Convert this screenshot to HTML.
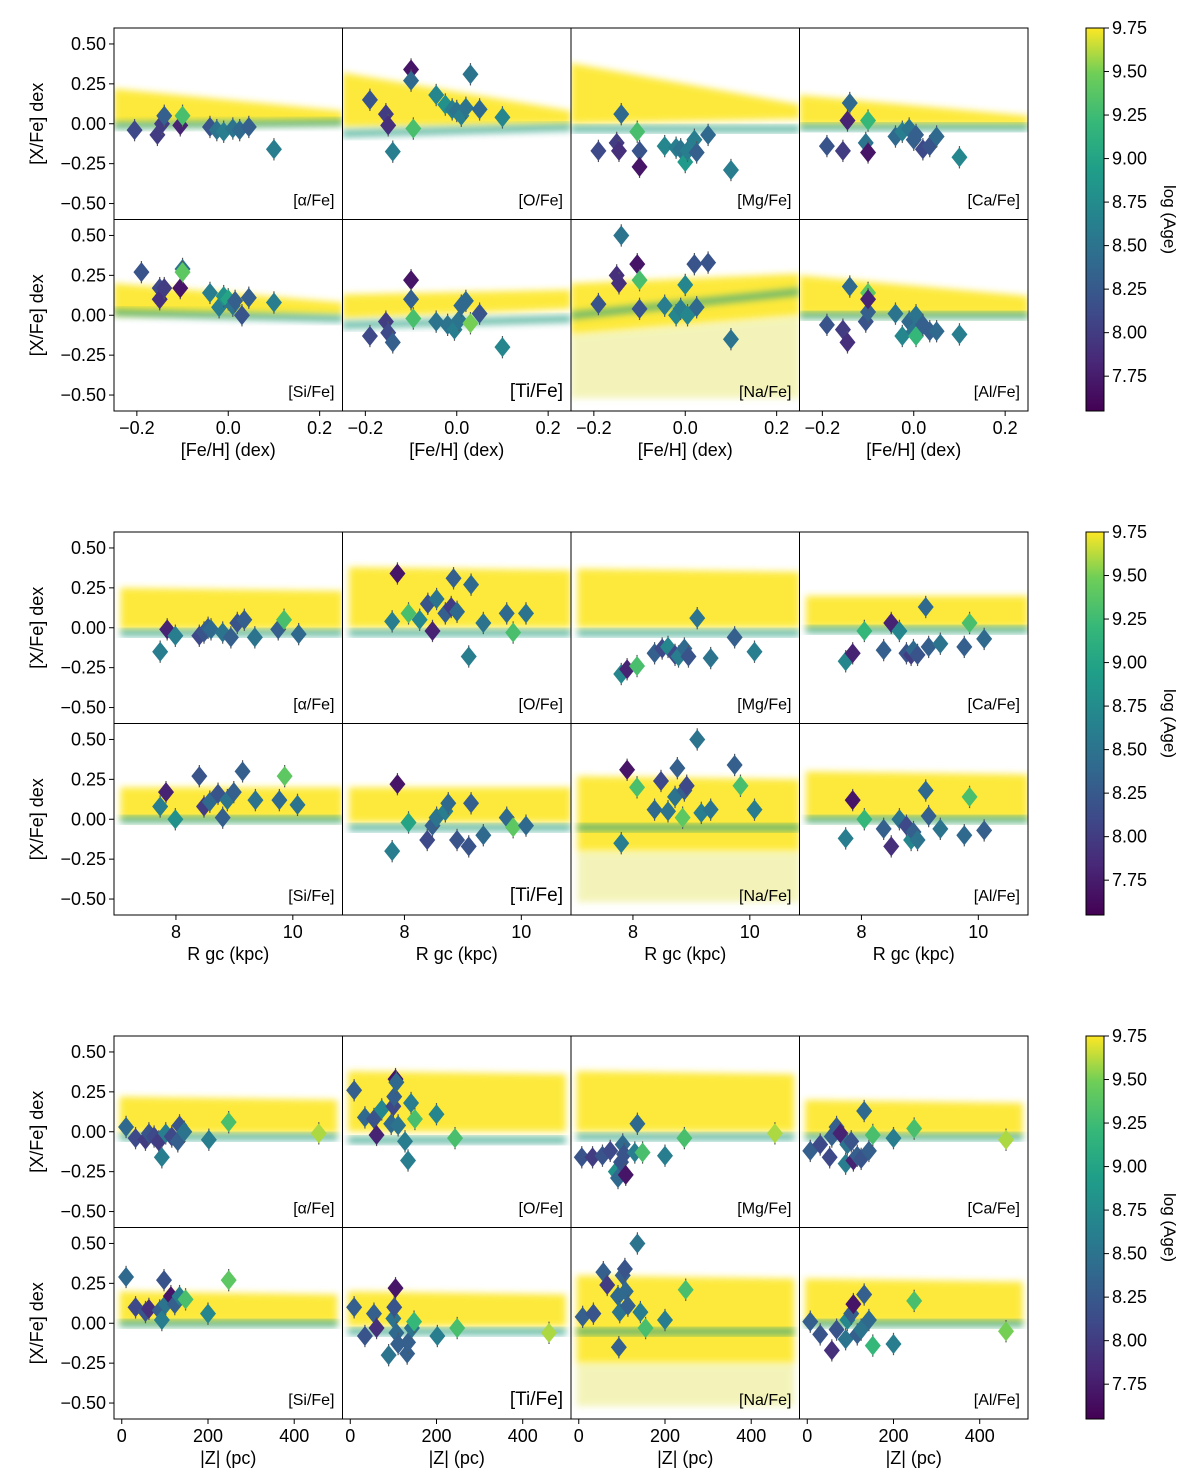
<!DOCTYPE html>
<html><head><meta charset="utf-8"><style>
html,body{margin:0;padding:0;background:#fff}
svg{display:block;font-family:"Liberation Sans",sans-serif}
</style></head><body>
<svg id="fig" width="1200" height="1476" viewBox="0 0 1200 1476" xmlns="http://www.w3.org/2000/svg">
<defs>
<filter id="soft" x="-5%" y="-20%" width="110%" height="140%"><feGaussianBlur stdDeviation="3.5"/></filter>
<linearGradient id="vir" x1="0" y1="1" x2="0" y2="0">
<stop offset="0" stop-color="#440154"/><stop offset="0.13" stop-color="#482878"/><stop offset="0.25" stop-color="#3e4989"/><stop offset="0.38" stop-color="#31688e"/><stop offset="0.5" stop-color="#26828e"/><stop offset="0.63" stop-color="#1f9e89"/><stop offset="0.75" stop-color="#35b779"/><stop offset="0.88" stop-color="#6ece58"/><stop offset="1" stop-color="#fde725"/>
</linearGradient>
</defs>
</svg>
<script>
// ---------- data: block 1 ([Fe/H]) ----------
const fehAlphaX=[-0.205,-0.155,-0.145,-0.14,-0.105,-0.10,-0.04,-0.025,-0.01,0.01,0.025,0.045,0.10];
const fehAlphaY=[-0.04,-0.07,0.0,0.05,-0.01,0.05,-0.02,-0.04,-0.05,-0.03,-0.04,-0.02,-0.16];
const fehAlphaAge=[8.1,8.0,8.0,8.3,7.8,9.3,8.2,8.5,8.6,8.5,8.4,8.3,8.6];
const fehOX=[-0.19,-0.155,-0.15,-0.14,-0.10,-0.10,-0.095,-0.045,-0.025,-0.01,0.0,0.01,0.02,0.03,0.05,0.10];
const fehOY=[0.15,0.06,-0.01,-0.175,0.34,0.27,-0.03,0.18,0.12,0.09,0.08,0.05,0.10,0.31,0.09,0.04];
const fehOAge=[8.2,8.0,7.9,8.6,7.7,8.4,9.3,8.7,8.8,8.6,8.5,8.6,8.5,8.5,8.4,8.7];
const fehMgX=[-0.19,-0.15,-0.145,-0.14,-0.105,-0.10,-0.10,-0.045,-0.02,-0.01,0.0,0.005,0.02,0.025,0.05,0.10];
const fehMgY=[-0.17,-0.12,-0.17,0.06,-0.05,-0.17,-0.27,-0.14,-0.15,-0.16,-0.24,-0.17,-0.10,-0.18,-0.07,-0.29];
const fehMgAge=[8.1,8.0,7.9,8.4,9.3,8.2,7.7,8.7,8.6,8.5,8.9,8.6,8.6,8.3,8.4,8.6];
const fehCaX=[-0.19,-0.155,-0.145,-0.14,-0.105,-0.10,-0.10,-0.04,-0.025,-0.01,0.0,0.005,0.02,0.035,0.05,0.10];
const fehCaY=[-0.14,-0.17,0.02,0.13,-0.12,-0.18,0.02,-0.08,-0.05,-0.03,-0.10,-0.07,-0.16,-0.14,-0.08,-0.21];
const fehCaAge=[8.2,8.0,7.8,8.4,8.5,7.7,9.2,8.4,8.6,8.5,8.3,8.3,8.1,8.2,8.4,8.7];
const fehSiX=[-0.19,-0.15,-0.15,-0.14,-0.105,-0.10,-0.10,-0.04,-0.02,-0.01,0.0,0.01,0.015,0.03,0.045,0.10];
const fehSiY=[0.27,0.17,0.10,0.17,0.17,0.29,0.27,0.14,0.05,0.12,0.10,0.06,0.09,0.0,0.11,0.08];
const fehSiAge=[8.2,8.1,7.9,8.0,7.7,8.5,9.4,8.6,8.6,8.8,9.0,8.5,8.3,8.2,8.3,8.6];
const fehTiX=[-0.19,-0.155,-0.15,-0.14,-0.10,-0.10,-0.095,-0.045,-0.02,-0.005,0.005,0.01,0.02,0.03,0.05,0.10];
const fehTiY=[-0.13,-0.04,-0.11,-0.17,0.22,0.10,-0.02,-0.04,-0.06,-0.09,-0.03,0.06,0.09,-0.05,0.01,-0.20];
const fehTiAge=[8.1,8.0,8.1,8.3,7.7,8.3,9.3,8.5,8.5,8.6,8.5,8.4,8.4,9.5,8.2,8.7];
const fehNaX=[-0.19,-0.15,-0.145,-0.14,-0.105,-0.10,-0.10,-0.045,-0.02,-0.01,0.0,0.005,0.02,0.025,0.05,0.10];
const fehNaY=[0.07,0.25,0.20,0.50,0.32,0.22,0.04,0.06,0.0,0.04,0.19,0.0,0.32,0.05,0.33,-0.15];
const fehNaAge=[8.2,7.9,7.9,8.5,7.7,9.3,8.2,8.6,8.7,8.6,8.7,8.7,8.2,8.4,8.2,8.5];
const fehAlX=[-0.19,-0.155,-0.145,-0.14,-0.105,-0.10,-0.10,-0.10,-0.04,-0.025,-0.01,0.0,0.005,0.005,0.02,0.035,0.05,0.10];
const fehAlY=[-0.06,-0.09,-0.17,0.18,-0.04,0.14,0.02,0.10,0.01,-0.13,-0.04,-0.10,-0.13,0.0,-0.06,-0.10,-0.10,-0.12];
const fehAlAge=[8.2,8.0,7.9,8.4,8.2,9.4,8.3,7.8,8.5,8.7,8.4,8.5,9.2,8.5,8.3,8.3,8.4,8.6];
// ---------- data: block 2 (R gc) ----------
const rAlphaX=[7.73,7.85,7.99,8.4,8.48,8.55,8.6,8.8,8.94,9.05,9.17,9.35,9.75,9.85,10.1];
const rAlphaY=[-0.15,-0.01,-0.05,-0.05,-0.03,0.0,-0.01,-0.03,-0.06,0.03,0.05,-0.06,-0.01,0.05,-0.04];
const rAlphaAge=[8.6,7.8,8.6,8.1,8.2,8.3,8.4,8.5,8.3,8.2,8.3,8.5,8.3,9.3,8.4];
const rOX=[7.79,7.88,8.07,8.26,8.4,8.48,8.55,8.7,8.8,8.84,8.9,9.1,9.14,9.35,9.75,9.86,10.08];
const rOY=[0.04,0.34,0.09,0.05,0.15,-0.02,0.18,0.09,0.13,0.31,0.10,-0.18,0.27,0.03,0.09,-0.03,0.09];
const rOAge=[8.6,7.7,9.3,8.7,8.2,7.8,8.5,8.3,8.0,8.3,8.4,8.6,8.4,8.5,8.4,9.3,8.5];
const rMgX=[7.8,7.9,8.07,8.37,8.5,8.6,8.72,8.78,8.88,8.95,9.1,9.33,9.74,10.08];
const rMgY=[-0.29,-0.26,-0.24,-0.16,-0.13,-0.12,-0.17,-0.18,-0.13,-0.18,0.06,-0.19,-0.06,-0.15];
const rMgAge=[8.7,7.8,9.3,8.3,8.1,8.7,8.1,8.6,8.4,8.2,8.5,8.5,8.3,8.6];
const rCaX=[7.73,7.85,8.05,8.38,8.51,8.65,8.77,8.85,8.89,8.96,9.1,9.15,9.35,9.76,9.85,10.1];
const rCaY=[-0.21,-0.16,-0.02,-0.14,0.03,-0.02,-0.16,-0.17,-0.14,-0.17,0.13,-0.12,-0.10,-0.12,0.03,-0.07];
const rCaAge=[8.7,7.8,9.2,8.3,7.8,8.7,8.2,8.0,8.4,8.2,8.4,8.3,8.5,8.3,9.3,8.4];
const rSiX=[7.73,7.83,7.99,8.4,8.48,8.58,8.72,8.8,8.88,8.99,9.14,9.36,9.77,9.86,10.08];
const rSiY=[0.08,0.17,0.0,0.27,0.08,0.11,0.16,0.01,0.12,0.17,0.30,0.12,0.12,0.27,0.09];
const rSiAge=[8.6,7.8,8.8,8.2,8.0,8.4,8.2,8.3,8.5,8.3,8.3,8.5,8.4,9.4,8.5];
const rTiX=[7.79,7.88,8.07,8.39,8.48,8.55,8.7,8.75,8.9,9.1,9.14,9.35,9.75,9.86,10.08];
const rTiY=[-0.20,0.22,-0.02,-0.13,-0.04,0.01,0.05,0.10,-0.13,-0.17,0.10,-0.10,0.01,-0.05,-0.04];
const rTiAge=[8.6,7.7,9.0,8.1,8.3,8.5,8.6,8.4,8.2,8.2,8.3,8.4,8.4,9.4,8.4];
const rNaX=[7.8,7.9,8.07,8.37,8.48,8.6,8.72,8.76,8.85,8.88,8.92,9.1,9.17,9.33,9.74,9.84,10.08];
const rNaY=[-0.15,0.31,0.20,0.06,0.24,0.05,0.14,0.32,0.01,0.18,0.21,0.50,0.04,0.06,0.34,0.21,0.06];
const rNaAge=[8.6,7.7,9.3,8.4,8.1,8.5,8.5,8.3,9.4,8.3,8.1,8.5,8.6,8.5,8.3,9.3,8.6];
const rAlX=[7.73,7.85,8.05,8.38,8.51,8.65,8.77,8.85,8.89,8.96,9.1,9.15,9.35,9.76,9.85,10.1];
const rAlY=[-0.12,0.12,0.0,-0.06,-0.17,0.0,-0.04,-0.13,-0.08,-0.13,0.18,0.02,-0.06,-0.10,0.14,-0.07];
const rAlAge=[8.6,7.7,9.2,8.3,7.9,8.5,8.1,8.7,8.3,8.5,8.4,8.3,8.5,8.4,9.3,8.3];
// ---------- data: block 3 (|Z|) ----------
const zAlphaX=[10,32,55,63,75,86,93,102,116,130,134,145,202,248,457];
const zAlphaY=[0.03,-0.04,-0.05,-0.01,-0.03,-0.06,-0.16,-0.01,-0.03,-0.06,0.04,0.0,-0.05,0.06,-0.01];
const zAlphaAge=[8.4,8.1,8.0,8.2,8.1,8.0,8.6,8.6,8.1,8.3,8.2,8.5,8.6,9.3,9.6];
const zOX=[9,34,55,61,73,95,100,102,105,107,111,127,134,141,150,200,243];
const zOY=[0.26,0.09,0.08,-0.02,0.14,0.05,0.16,0.22,0.33,0.31,0.04,-0.06,-0.18,0.18,0.08,0.11,-0.04];
const zOAge=[8.3,8.4,8.2,7.8,8.7,8.4,8.1,8.3,7.7,8.4,8.5,8.6,8.6,8.6,9.3,8.7,9.3];
const zMgX=[7,32,55,73,86,91,98,102,105,109,130,136,148,200,245,455];
const zMgY=[-0.16,-0.16,-0.15,-0.12,-0.25,-0.29,-0.19,-0.08,-0.14,-0.27,-0.13,0.05,-0.13,-0.15,-0.04,-0.01];
const zMgAge=[8.2,8.0,8.2,8.1,8.8,8.4,8.2,8.4,8.2,7.7,8.6,8.4,9.3,8.6,9.3,9.6];
const zCaX=[7,30,52,57,68,77,89,93,102,107,116,125,132,143,152,200,248,461];
const zCaY=[-0.12,-0.08,-0.16,-0.03,0.03,-0.01,-0.20,-0.08,-0.06,-0.18,-0.15,-0.17,0.13,-0.12,-0.02,-0.04,0.02,-0.05];
const zCaAge=[8.3,8.1,8.1,8.3,8.3,7.8,8.6,8.5,8.2,7.8,8.3,8.2,8.4,8.3,9.3,8.6,9.3,9.6];
const zSiX=[10,32,55,63,88,93,98,102,114,123,134,148,200,248];
const zSiY=[0.29,0.10,0.07,0.09,0.08,0.02,0.27,0.12,0.17,0.12,0.17,0.15,0.06,0.27];
const zSiAge=[8.4,8.1,8.2,7.9,8.3,8.6,8.2,8.5,7.7,8.3,8.6,9.3,8.7,9.4];
const zTiX=[9,34,55,61,89,100,102,105,107,111,132,134,143,148,202,248,461];
const zTiY=[0.10,-0.08,0.06,-0.03,-0.20,0.03,0.10,0.22,-0.06,-0.13,-0.19,-0.12,-0.03,0.01,-0.08,-0.03,-0.06];
const zTiAge=[8.3,8.2,8.3,7.9,8.5,8.5,8.2,7.7,8.4,8.3,8.3,8.3,8.5,9.2,8.6,9.3,9.6];
const zNaX=[9,34,57,66,91,93,95,102,107,109,114,136,143,155,200,248];
const zNaY=[0.04,0.06,0.32,0.24,0.17,-0.15,0.07,0.30,0.34,0.20,0.11,0.50,0.07,-0.03,0.02,0.21];
const zNaAge=[8.3,8.2,8.3,8.0,8.4,8.3,8.5,8.3,8.2,8.4,8.3,8.5,8.6,9.3,8.6,9.3];
const zAlX=[7,30,57,68,89,93,102,107,116,125,132,143,152,200,248,461];
const zAlY=[0.01,-0.07,-0.17,-0.04,-0.10,0.02,0.06,0.12,-0.07,-0.04,0.18,0.02,-0.14,-0.13,0.14,-0.05];
const zAlAge=[8.3,8.2,7.9,8.2,8.5,8.7,8.3,7.7,8.3,8.5,8.3,8.4,9.2,8.6,9.3,9.5];
// ---------- axes / tick labels ----------
const yTicks=[0.5,0.25,0.0,-0.25,-0.5];
const yTickLabels=["0.50","0.25","0.00","\u22120.25","\u22120.50"];
const fehTicks=[-0.2,0.0,0.2], fehTickLabels=["\u22120.2","0.0","0.2"];
const rTicks=[8,10], rTickLabels=["8","10"];
const zTicks=[0,200,400], zTickLabels=["0","200","400"];
const cbTicks=[9.75,9.5,9.25,9.0,8.75,8.5,8.25,8.0,7.75];
const cbTickLabels=["9.75","9.50","9.25","9.00","8.75","8.50","8.25","8.00","7.75"];
const ageMin=7.55, ageMax=9.75;
const elemLabels=["[\u03b1/Fe]","[O/Fe]","[Mg/Fe]","[Ca/Fe]","[Si/Fe]","[Ti/Fe]","[Na/Fe]","[Al/Fe]"];
const elemKeys=["alpha","o","mg","ca","si","ti","na","al"];

const svg=document.getElementById('fig');
const NS="http://www.w3.org/2000/svg";
function mk(tag,attrs,parent){const e=document.createElementNS(NS,tag);for(const k in attrs)e.setAttribute(k,attrs[k]);(parent||svg).appendChild(e);return e;}
const vstops=[[0,[68,1,84]],[0.13,[72,40,120]],[0.25,[62,73,137]],[0.38,[49,104,142]],[0.5,[38,130,142]],[0.63,[31,158,137]],[0.75,[53,183,121]],[0.88,[110,206,88]],[1,[253,231,37]]];
function viridis(a){let t=(a-ageMin)/(ageMax-ageMin);t=Math.max(0,Math.min(1,t));for(let i=1;i<vstops.length;i++){if(t<=vstops[i][0]){const[p0,c0]=vstops[i-1],[p1,c1]=vstops[i];const f=(t-p0)/(p1-p0);return 'rgb('+c0.map((c,j)=>Math.round(c+(c1[j]-c)*f)).join(',')+')';}}return 'rgb(253,231,37)';}

const colX=[114,342.5,571,799.5], colW=228.5;
const blockTop=[28,532,1036], rowH=191.5;
const blocks=[
 {name:'feh',dom:[-0.25,0.25],ticks:fehTicks,labels:fehTickLabels,xlabel:'[Fe/H] (dex)',ext:[-0.25,0.25],
  data:[[fehAlphaX,fehAlphaY,fehAlphaAge],[fehOX,fehOY,fehOAge],[fehMgX,fehMgY,fehMgAge],[fehCaX,fehCaY,fehCaAge],[fehSiX,fehSiY,fehSiAge],[fehTiX,fehTiY,fehTiAge],[fehNaX,fehNaY,fehNaAge],[fehAlX,fehAlY,fehAlAge]],
  bands:[[.22,.08,-.01,.0,-.01,.01],[.32,.08,-.02,.0,-.06,-.02],[.38,.12,0,.03,-.03,-.03],[.18,.05,-.01,-.01,-.02,-.02],[.2,.08,0,0,.02,-.02],[.13,.16,-.02,.04,-.06,-.02],[.2,.26,-.12,.0,.0,.15],[.25,.12,0,0,0,0]]},
 {name:'r',dom:[6.94,10.85],ticks:rTicks,labels:rTickLabels,xlabel:'R gc (kpc)',ext:[7.05,10.85],
  data:[[rAlphaX,rAlphaY,rAlphaAge],[rOX,rOY,rOAge],[rMgX,rMgY,rMgAge],[rCaX,rCaY,rCaAge],[rSiX,rSiY,rSiAge],[rTiX,rTiY,rTiAge],[rNaX,rNaY,rNaAge],[rAlX,rAlY,rAlAge]],
  bands:[[.25,.23,-.01,-.01,-.03,-.03],[.38,.36,0,0,-.03,-.03],[.37,.35,0,0,-.03,-.03],[.2,.2,0,0,-.01,-.01],[.2,.2,0,0,0,0],[.2,.2,-.02,-.02,-.05,-.05],[.27,.25,-.2,-.2,-.05,-.05],[.3,.28,0,0,0,0]]},
 {name:'z',dom:[-18,512],ticks:zTicks,labels:zTickLabels,xlabel:'|Z| (pc)',ext:[-5,500],
  data:[[zAlphaX,zAlphaY,zAlphaAge],[zOX,zOY,zOAge],[zMgX,zMgY,zMgAge],[zCaX,zCaY,zCaAge],[zSiX,zSiY,zSiAge],[zTiX,zTiY,zTiAge],[zNaX,zNaY,zNaAge],[zAlX,zAlY,zAlAge]],
  bands:[[.22,.2,-.01,-.01,-.03,-.03],[.38,.36,0,0,-.05,-.05],[.38,.36,0,0,-.03,-.03],[.2,.18,-.02,-.02,-.03,-.03],[.2,.18,0,0,0,0],[.2,.18,-.02,-.02,-.05,-.05],[.3,.28,-.25,-.25,-.05,-.05],[.28,.26,0,0,0,0]]}
];

blocks.forEach((b,bi)=>{
 const g=mk('g',{});
 
 
 for(let p=0;p<8;p++){
  const col=p%4,row=Math.floor(p/4);
  const px=colX[col],py=blockTop[bi]+row*rowH;
  const xs=v=>px+(v-b.dom[0])/(b.dom[1]-b.dom[0])*colW;
  const ys=v=>py+(0.6-v)/1.2*rowH;
  const pg=mk('g',{},g);
  
  
  const cp='clip'+bi+'_'+p;
  const cpe=mk('clipPath',{id:cp},pg);mk('rect',{x:px,y:py,width:colW,height:rowH},cpe);
  const bg=mk('g',{'clip-path':'url(#'+cp+')'},pg);
  const bd=b.bands[p];
  const x0=xs(b.ext[0]),x1=xs(b.ext[1]);
  if(p===6){
   const sc=mk('polygon',{points:[x0,ys(bd[2]),x1,ys(bd[3]),x1,ys(-0.52),x0,ys(-0.52)].join(' '),fill:'#e0e24a',opacity:0.38,filter:'url(#soft)'},bg);
   
  }
  const yb=mk('polygon',{points:[x0,ys(bd[0]),x1,ys(bd[1]),x1,ys(bd[3]),x0,ys(bd[2])].join(' '),fill:'#fde725',opacity:0.9,filter:'url(#soft)'},bg);
  
  const gb=mk('polygon',{points:[x0,ys(bd[4]+0.02),x1,ys(bd[5]+0.02),x1,ys(bd[5]-0.025),x0,ys(bd[4]-0.025)].join(' '),fill:'#2ba084',opacity:0.7,filter:'url(#soft)'},bg);
  
  const [dx,dy,da]=b.data[p];
  for(let i=0;i<dx.length;i++){
   const cx=xs(dx[i]),cy=ys(dy[i]);
   const eb=mk('line',{x1:cx,x2:cx,y1:ys(dy[i]+0.07),y2:ys(dy[i]-0.07),stroke:'#555',"stroke-width":1.2},bg);
   
   const d=mk('polygon',{points:[cx,cy-10,cx+8,cy,cx,cy+10,cx-8,cy].join(' '),fill:viridis(da[i])},bg);
   
  }
  const fr=mk('rect',{x:px,y:py,width:colW,height:rowH,fill:'none',stroke:'#000','stroke-width':1},pg);
  
  const big=(p===5);
  const lb=mk('text',{x:px+colW-8,y:py+rowH-14,'text-anchor':'end','font-size':big?19:16,fill:'#000'},pg);
  lb.textContent=elemLabels[p];
  
  if(col===0){
   yTicks.forEach((t,k)=>{
    mk('line',{x1:px-5,x2:px,y1:ys(t),y2:ys(t),stroke:'#000'},pg);
    const tl=mk('text',{x:px-8,y:ys(t)+6,'text-anchor':'end','font-size':18},pg);
    tl.textContent=yTickLabels[k];
    
   });
   const yl=mk('text',{x:0,y:0,transform:'translate(43,'+(py+rowH/2)+') rotate(-90)','text-anchor':'middle','font-size':18},pg);
   yl.textContent='[X/Fe] dex';
   
  }
  if(row===1){
   b.ticks.forEach((t,k)=>{
    mk('line',{x1:xs(t),x2:xs(t),y1:py+rowH,y2:py+rowH+5,stroke:'#000'},pg);
    const tl=mk('text',{x:xs(t),y:py+rowH+23,'text-anchor':'middle','font-size':18},pg);
    tl.textContent=b.labels[k];
    
   });
   const xl=mk('text',{x:px+colW/2,y:py+rowH+45,'text-anchor':'middle','font-size':18},pg);
   xl.textContent=b.xlabel;
   
  }
 }
 // colorbar
 const ct=blockTop[bi],ch=2*rowH;
 const cg=mk('g',{},g);
 
 mk('rect',{x:1086,y:ct,width:18,height:ch,fill:'url(#vir)',stroke:'#000','stroke-width':1},cg);
 const cy=v=>ct+(ageMax-v)/(ageMax-ageMin)*ch;
 cbTicks.forEach((t,k)=>{
  mk('line',{x1:1104,x2:1109,y1:cy(t),y2:cy(t),stroke:'#000'},cg);
  const tl=mk('text',{x:1112,y:cy(t)+6,'font-size':18},cg);
  tl.textContent=cbTickLabels[k];
  
 });
 const cl=mk('text',{x:0,y:0,transform:'translate(1164,'+(ct+ch/2)+') rotate(90)','text-anchor':'middle','font-size':17},cg);
 cl.textContent='log (Age)';
 
});
</script>
</body></html>
